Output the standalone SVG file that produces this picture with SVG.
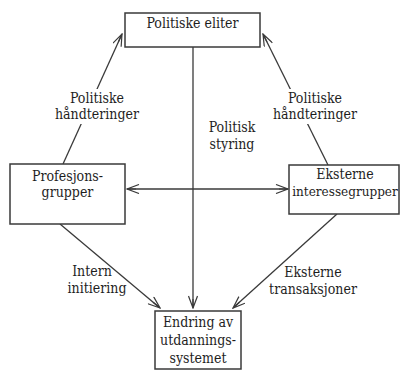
<svg xmlns="http://www.w3.org/2000/svg" width="403" height="370" viewBox="0 0 403 370">
<style>
  .box { fill: #fff; stroke: #3a3a3a; stroke-width: 1.5; }
  .t { font-family: "DejaVu Serif Condensed", "Liberation Serif", serif; font-size: 14px; fill: #1e1e1e; text-anchor: middle; }
  .ln { stroke: #3a3a3a; stroke-width: 1.3; fill: none; }
  .bg { fill: #fff; }
</style>
<defs>
  <marker id="ah" viewBox="0 0 14 10" refX="13" refY="5" markerWidth="14" markerHeight="10" markerUnits="userSpaceOnUse" orient="auto-start-reverse">
    <path d="M1,0.5 L13,5 L1,9.5 M4,5 L13,5" fill="none" stroke="#3a3a3a" stroke-width="1.2"/>
  </marker>
</defs>
<rect width="403" height="370" fill="#fff"/>
<g id="connectors">
  <line class="ln" x1="193" y1="47" x2="193" y2="308" marker-end="url(#ah)"/>
  <line class="ln" x1="63" y1="164" x2="122" y2="34" marker-end="url(#ah)"/>
  <line class="ln" x1="328" y1="165" x2="263" y2="34" marker-end="url(#ah)"/>
  <line class="ln" x1="127" y1="189" x2="288" y2="189" marker-start="url(#ah)" marker-end="url(#ah)"/>
  <line class="ln" x1="60" y1="224" x2="160" y2="308" marker-end="url(#ah)"/>
  <line class="ln" x1="337" y1="214" x2="233" y2="308" marker-end="url(#ah)"/>
</g>
<g id="labels">
  <rect class="bg" x="55" y="89" width="84" height="35"/>
  <text class="t" x="97" y="103">Politiske</text>
  <text class="t" x="97" y="119">håndteringer</text>
  <rect class="bg" x="273" y="89" width="84" height="35"/>
  <text class="t" x="315" y="103">Politiske</text>
  <text class="t" x="315" y="119">håndteringer</text>
  <text class="t" x="232" y="132">Politisk</text>
  <text class="t" x="232" y="149">styring</text>
  <text class="t" x="92" y="276">Intern</text>
  <text class="t" x="97" y="293">initiering</text>
  <text class="t" x="313" y="277">Eksterne</text>
  <text class="t" x="313" y="294">transaksjoner</text>
</g>
<g id="n-eliter">
  <rect class="box" x="125" y="13" width="135" height="34"/>
  <text class="t" x="192.5" y="28">Politiske eliter</text>
</g>
<g id="n-profesjon">
  <rect class="box" x="10" y="164" width="115" height="60"/>
  <text class="t" x="67.5" y="181">Profesjons-</text>
  <text class="t" x="67.5" y="197">grupper</text>
</g>
<g id="n-eksterne">
  <rect class="box" x="289" y="165" width="110" height="49"/>
  <text class="t" x="345" y="179">Eksterne</text>
  <text class="t" x="345" y="196" style="font-size:13.4px">interessegrupper</text>
</g>
<g id="n-endring">
  <rect class="box" x="155" y="311" width="86" height="58"/>
  <text class="t" x="198" y="327">Endring av</text>
  <text class="t" x="198" y="345">utdannings-</text>
  <text class="t" x="198" y="363">systemet</text>
</g>
</svg>
